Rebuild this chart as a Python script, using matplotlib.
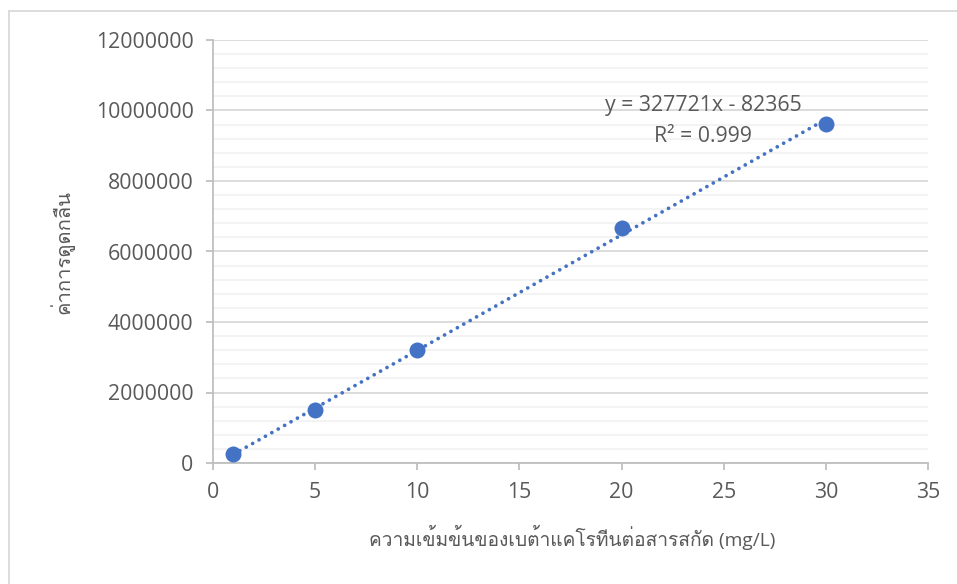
import matplotlib
matplotlib.use("Agg")
import matplotlib.pyplot as plt
from matplotlib import font_manager
from matplotlib.ft2font import FT2Font
from matplotlib.ticker import MultipleLocator
from matplotlib.lines import Line2D
import numpy as np

# Data: beta-carotene concentration vs absorbance
concentration = [1, 5, 10, 20, 30]
absorbance = [250000, 1500000, 3200000, 6680000, 9630000]
slope = 327721
intercept = -82365
r_squared = 0.999
x_ticks = [0, 5, 10, 15, 20, 25, 30, 35]
y_ticks = [0, 2000000, 4000000, 6000000, 8000000, 10000000, 12000000]

x_label = "ความเข้มข้นของเบต้าแคโรทีนต่อสารสกัด (mg/L)"
y_label = "ค่าการดูดกลืน"


def find_thai_family():
    seen = set()
    for f in font_manager.fontManager.ttflist:
        if f.name in seen:
            continue
        seen.add(f.name)
        try:
            cmap = FT2Font(f.fname).get_charmap()
        except Exception:
            continue
        if 0x0E04 in cmap and 0x0E01 in cmap:
            return f.name
    return None


thai = find_thai_family()
families = ["Open Sans"] + ([thai] if thai else []) + ["DejaVu Sans"]
plt.rcParams["font.family"] = families

TEXT = "#595959"
BLUE = "#4472C4"
FS = 15.3

fig = plt.figure(figsize=(9.57, 5.84), dpi=100)
ax = fig.add_axes([213 / 957, 1 - 463 / 584, (928 - 213) / 957, (463 - 40) / 584])

ax.set_xlim(0, 35)
ax.set_ylim(0, 12000000)
ax.set_xticks(x_ticks)
ax.set_yticks(y_ticks)
ax.set_xticklabels([str(v) for v in x_ticks])
ax.set_yticklabels([str(v) for v in y_ticks])
ax.yaxis.set_minor_locator(MultipleLocator(400000))

ax.grid(which="major", axis="y", color="#D9D9D9", linewidth=1.3, zorder=0)
ax.grid(which="minor", axis="y", color="#F2F2F2", linewidth=1.3, zorder=0)
ax.set_axisbelow(True)

for side in ("top", "right"):
    ax.spines[side].set_visible(False)
for side in ("left", "bottom"):
    ax.spines[side].set_color("#BFBFBF")
    ax.spines[side].set_linewidth(1.3)

ax.tick_params(axis="both", which="major", colors="#BFBFBF", length=5,
               width=1.3, labelcolor=TEXT, labelsize=FS)
ax.tick_params(axis="y", which="major", pad=9)
ax.tick_params(axis="x", which="major", pad=9)
ax.tick_params(axis="y", which="minor", length=0)

# Linear trendline from the fitted equation
xt = np.array([concentration[0], concentration[-1]], dtype=float)
yt = slope * xt + intercept
ax.plot(xt, yt, color=BLUE, linewidth=2.7, linestyle=(0, (0.01, 1.95)),
        dash_capstyle="round", zorder=3)

ax.plot(concentration, absorbance, "o", color=BLUE, markersize=11.5,
        markeredgewidth=0, zorder=4)

ax.text(703 / 957, 1 - 105 / 584, f"y = {slope}x - {abs(intercept)}",
        transform=fig.transFigure, ha="center", va="center", fontsize=FS, color=TEXT)
ax.text(703 / 957, 1 - 137 / 584, f"R² = {r_squared}",
        transform=fig.transFigure, ha="center", va="center", fontsize=FS, color=TEXT)

fig.text(572 / 957, 1 - 537 / 584, x_label, ha="center", va="center",
         fontsize=13.8, color=TEXT)
fig.text(62 / 957, 1 - 252 / 584, y_label, ha="center", va="center",
         rotation=90, fontsize=14.5, color=TEXT)

# Chart-area border
fig.add_artist(Line2D([8.5 / 957, 8.5 / 957], [0, 1 - 11 / 584],
                      transform=fig.transFigure, color="#D9D9D9", linewidth=1.3))
fig.add_artist(Line2D([8.5 / 957, 1], [1 - 11 / 584, 1 - 11 / 584],
                      transform=fig.transFigure, color="#D9D9D9", linewidth=1.3))

fig.savefig("out.png", dpi=100, facecolor="white")
